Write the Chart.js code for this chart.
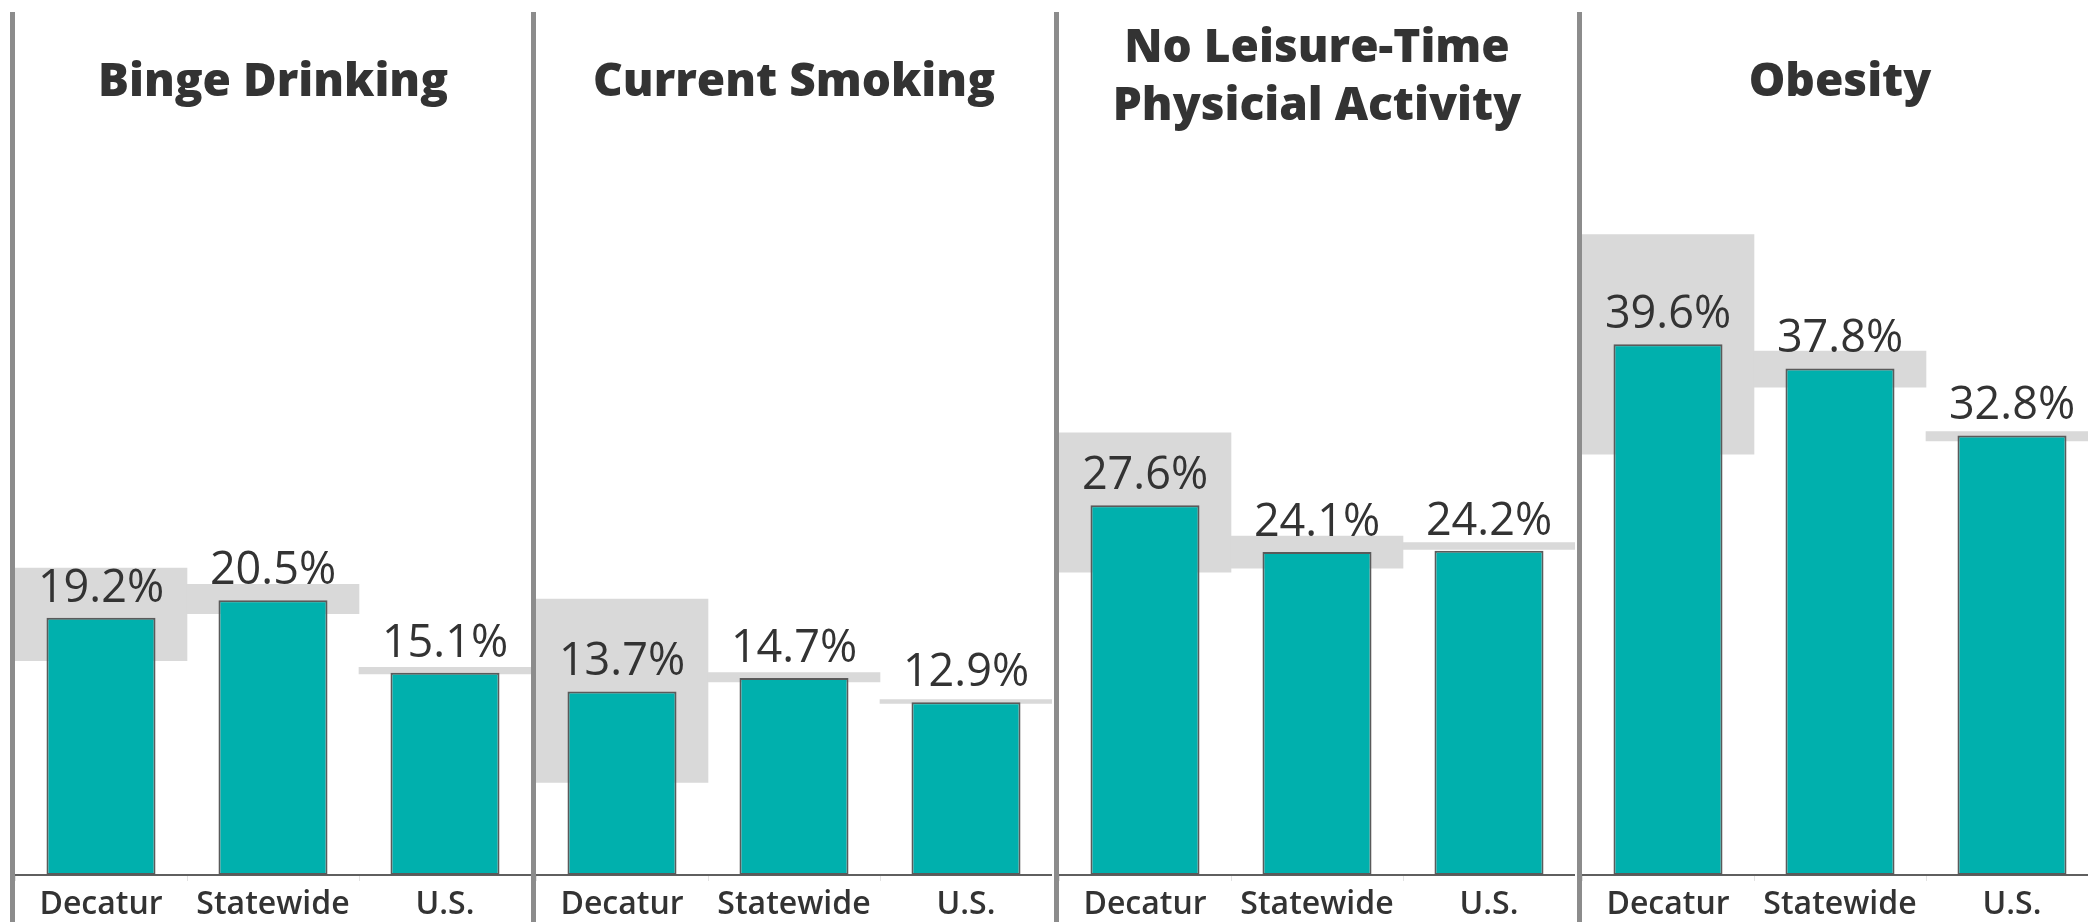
<!DOCTYPE html>
<html>
<head>
<meta charset="utf-8">
<script src="https://cdn.jsdelivr.net/npm/chart.js@4.4.1/dist/chart.umd.min.js"></script>
<style>
  html, body { margin: 0; padding: 0; background: #fff; }
  body { position: relative; width: 2088px; height: 922px; overflow: hidden; }
  .divider { position: absolute; top: 12px; bottom: 0; width: 5px; background: #8c8c8c; }
  .panel { position: absolute; top: 0; width: 516px; height: 922px; }
  .panel canvas { position: absolute; left: 0; top: 0; }
  .title {
    position: absolute; left: 0; right: 0; text-align: center;
    font-family: "Open Sans", sans-serif; font-weight: 800; font-size: 46px;
    line-height: 58px; color: #333; white-space: nowrap;
  }
</style>
</head>
<body>
<script>
// Categories shared by every panel
const categories = ['Decatur', 'Statewide', 'U.S.'];

// Panel titles (one entry per line)
const bingeTitle = ['Binge Drinking'];
const smokingTitle = ['Current Smoking'];
const activityTitle = ['No Leisure-Time', 'Physicial Activity'];
const obesityTitle = ['Obesity'];

// Prevalence estimates (%)
const bingeValues = [19.2, 20.5, 15.1];
const smokingValues = [13.7, 14.7, 12.9];
const activityValues = [27.6, 24.1, 24.2];
const obesityValues = [39.6, 37.8, 32.8];

// Confidence ranges [low, high] (%)
const bingeRanges = [[16.0, 22.9], [19.5, 21.7], [15.0, 15.5]];
const smokingRanges = [[6.9, 20.6], [14.4, 15.1], [12.8, 13.1]];
const activityRanges = [[22.6, 33.0], [22.9, 25.3], [24.3, 24.8]];
const obesityRanges = [[31.4, 47.8], [36.4, 39.1], [32.4, 33.1]];

// Shared value axis range
const yMin = 0;
const yMax = 60;

const panels = [
  { title: bingeTitle, values: bingeValues, ranges: bingeRanges },
  { title: smokingTitle, values: smokingValues, ranges: smokingRanges },
  { title: activityTitle, values: activityValues, ranges: activityRanges },
  { title: obesityTitle, values: obesityValues, ranges: obesityRanges }
];

// Layout of the four side-by-side panels
const dividerLeft = [10, 531, 1054, 1577];
const panelLeft = [15, 536, 1059, 1582];
const panelWidth = 516;
const canvasHeight = 922;

// Writes the percentage above each teal bar
const valueLabels = {
  id: 'valueLabels',
  afterDatasetsDraw(chart) {
    const idx = chart.data.datasets.findIndex(d => d.isValue);
    const meta = chart.getDatasetMeta(idx);
    const ctx = chart.ctx;
    ctx.save();
    ctx.font = '45px "Open Sans", sans-serif';
    ctx.fillStyle = '#333333';
    ctx.textAlign = 'center';
    ctx.textBaseline = 'alphabetic';
    meta.data.forEach((bar, i) => {
      const v = chart.data.datasets[idx].data[i];
      ctx.fillText(v.toFixed(1) + '%', bar.x, bar.y - 16);
    });
    ctx.restore();
  }
};

panels.forEach((p, i) => {
  const div = document.createElement('div');
  div.className = 'divider';
  div.style.left = dividerLeft[i] + 'px';
  document.body.appendChild(div);

  const panel = document.createElement('div');
  panel.className = 'panel';
  panel.style.left = panelLeft[i] + 'px';
  panel.style.width = panelWidth + 'px';

  const canvas = document.createElement('canvas');
  canvas.width = panelWidth;
  canvas.height = canvasHeight;
  panel.appendChild(canvas);

  const title = document.createElement('div');
  title.className = 'title';
  title.style.top = (p.title.length > 1 ? 15 : 49) + 'px';
  title.innerHTML = p.title.join('<br>');
  panel.appendChild(title);

  document.body.appendChild(panel);

  new Chart(canvas, {
    type: 'bar',
    data: {
      labels: categories,
      datasets: [
        {
          isValue: true,
          data: p.values,
          backgroundColor: '#00B0AD',
          borderColor: '#5a5a5a',
          borderWidth: 2,
          borderSkipped: false,
          barPercentage: 0.634,
          categoryPercentage: 1,
          grouped: false,
          order: 1
        },
        {
          data: p.ranges,
          backgroundColor: '#d9d9d9',
          borderWidth: 0,
          barPercentage: 1,
          categoryPercentage: 1,
          grouped: false,
          order: 2
        }
      ]
    },
    options: {
      responsive: false,
      animation: false,
      layout: { padding: { top: 71, left: 0, right: 0, bottom: 0 } },
      plugins: { legend: { display: false }, tooltip: { enabled: false }, title: { display: false } },
      scales: {
        x: {
          offset: true,
          grid: { display: true, drawOnChartArea: false, offset: true, tickLength: 6, color: '#e3e3e3', lineWidth: 1 },
          border: { display: true, color: '#5f5f5f', width: 2 },
          ticks: {
            color: '#333333',
            font: { family: 'Open Sans', size: 32, weight: '600' },
            padding: 5, maxRotation: 0, autoSkip: false
          },
          afterFit(axis) { axis.height = 47; }
        },
        y: { display: false, min: yMin, max: yMax }
      }
    },
    plugins: [valueLabels]
  });
});
</script>
</body>
</html>
